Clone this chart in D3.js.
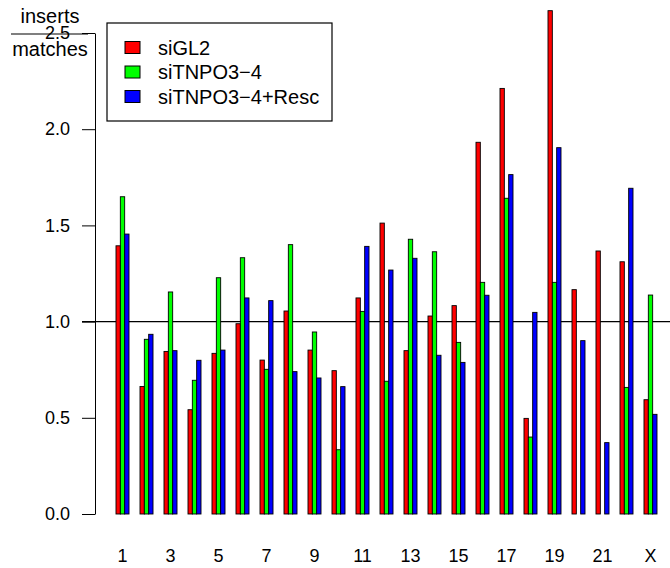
<!DOCTYPE html>
<html>
<head>
<meta charset="utf-8">
<script src="https://cdn.jsdelivr.net/npm/d3@7"></script>
<style>
  html, body { margin: 0; padding: 0; background: #fff; }
  svg { display: block; font-family: "Liberation Sans", Arial, Helvetica, sans-serif; }
</style>
</head>
<body>
<svg id="chart" width="670" height="568"></svg>
<script>
// Chromosomes on the x axis
const chromosomes = ["1","2","3","4","5","6","7","8","9","10","11","12",
                     "13","14","15","16","17","18","19","20","21","22","X"];
// Labels actually printed under the groups
const xTickLabels = ["1","3","5","7","9","11","13","15","17","19","21","X"];
const yTicks = [0, 0.5, 1.0, 1.5, 2.0, 2.5];

// Ratio of inserts to matches per chromosome
const siGL2 = [1.394,0.663,0.845,0.542,0.835,0.989,0.800,1.055,0.852,0.745,1.123,1.512,
               0.849,1.029,1.083,1.932,2.212,0.497,2.616,1.166,1.367,1.311,0.594];
const siTNPO3_4 = [1.649,0.908,1.154,0.695,1.228,1.332,0.752,1.400,0.946,0.334,1.053,0.690,
                   1.428,1.363,0.892,1.204,1.641,0.400,1.204,0.000,0.000,0.658,1.138];
const siTNPO3_4Resc = [1.455,0.934,0.849,0.799,0.852,1.123,1.109,0.740,0.707,0.662,1.391,1.268,
                       1.329,0.825,0.788,1.137,1.764,1.048,1.904,0.901,0.371,1.693,0.518];

const seriesNames = ["siGL2", "siTNPO3\u22124", "siTNPO3\u22124+Resc"];
const seriesColors = ["#FF0000", "#00FF00", "#0000FF"];
const seriesValues = [siGL2, siTNPO3_4, siTNPO3_4Resc];

const svg = d3.select("#chart");

const y = d3.scaleLinear().domain([0, 2.5]).range([514, 33]);

const x = d3.scaleBand()
  .domain(chromosomes)
  .range([116, 657])
  .paddingInner(0.458)
  .paddingOuter(0);

const xs = d3.scaleBand()
  .domain(d3.range(seriesNames.length))
  .range([0, x.bandwidth()])
  .padding(0);

// Reference line at ratio 1
svg.append("line")
  .attr("x1", 82).attr("x2", 670)
  .attr("y1", y(1)).attr("y2", y(1))
  .attr("stroke", "#000").attr("stroke-width", 1.2);

// Bars
const groups = svg.append("g").selectAll("g")
  .data(chromosomes)
  .join("g")
  .attr("transform", d => `translate(${x(d)},0)`);

groups.selectAll("rect")
  .data((d, i) => seriesValues.map((vals, s) => ({ s, v: vals[i] })))
  .join("rect")
  .attr("x", d => xs(d.s))
  .attr("width", xs.bandwidth())
  .attr("y", d => y(d.v))
  .attr("height", d => y(0) - y(d.v))
  .attr("fill", d => seriesColors[d.s])
  .attr("stroke", "#000")
  .attr("stroke-width", 0.9);

// Y axis
const yAxis = svg.append("g")
  .attr("transform", "translate(95,0)")
  .call(d3.axisLeft(y).tickValues(yTicks).tickFormat(d3.format(".1f"))
        .tickSize(13).tickSizeOuter(0).tickPadding(12));
yAxis.select(".domain").attr("stroke", "#000");
yAxis.selectAll(".tick line").attr("stroke", "#000");
yAxis.selectAll(".tick text").attr("font-size", 18).attr("fill", "#000")
  .attr("font-family", "Liberation Sans, Arial, sans-serif");

// X labels (every other chromosome)
const xAxis = svg.append("g")
  .attr("transform", "translate(0,514)")
  .call(d3.axisBottom(x)
        .tickValues(chromosomes.filter(c => xTickLabels.includes(c)))
        .tickSize(0).tickPadding(35));
xAxis.select(".domain").remove();
xAxis.selectAll(".tick text").attr("font-size", 18).attr("fill", "#000")
  .attr("font-family", "Liberation Sans, Arial, sans-serif");

// Y label as a fraction
const yl = svg.append("g").attr("font-size", 20).attr("text-anchor", "middle").attr("fill", "#000");
yl.append("text").attr("x", 50).attr("y", 23).text("inserts");
yl.append("line").attr("x1", 11).attr("x2", 88).attr("y1", 34).attr("y2", 34)
  .attr("stroke", "#000").attr("stroke-width", 1.2);
yl.append("text").attr("x", 50).attr("y", 56).text("matches");

// Legend
const legend = svg.append("g");
legend.append("rect")
  .attr("x", 107).attr("y", 23).attr("width", 225).attr("height", 98)
  .attr("fill", "#fff").attr("stroke", "#000").attr("stroke-width", 1.2);
const items = legend.selectAll("g.item")
  .data(seriesNames)
  .join("g")
  .attr("class", "item")
  .attr("transform", (d, i) => `translate(0,${47.5 + i * 24.5})`);
items.append("rect")
  .attr("x", 125).attr("y", -6).attr("width", 15).attr("height", 12)
  .attr("fill", (d, i) => seriesColors[i]).attr("stroke", "#000").attr("stroke-width", 1);
items.append("text")
  .attr("x", 158).attr("y", 0).attr("dy", "0.35em")
  .attr("font-size", 20).attr("fill", "#000")
  .text(d => d);
</script>
</body>
</html>
